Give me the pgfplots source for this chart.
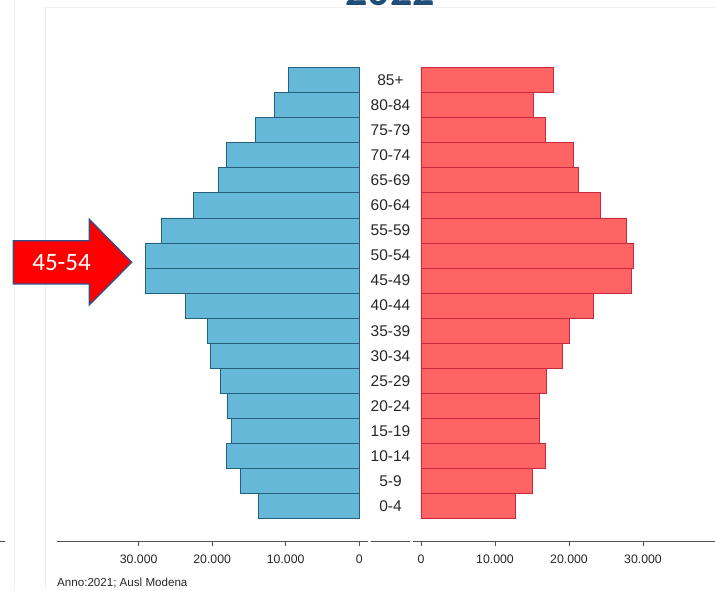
\documentclass[border=0pt]{standalone}
\usepackage{pgfplots}
\pgfplotsset{compat=1.18}
\usepackage{fontspec}
\setmainfont{Liberation Sans}
\newfontfamily\calibri{Carlito}
\definecolor{barblue}{HTML}{66B8D8}
\definecolor{bluedark}{HTML}{25607F}
\definecolor{barred}{HTML}{FF6464}
\definecolor{reddark}{HTML}{C8283C}
\definecolor{axisgray}{HTML}{505050}
\definecolor{titleblue}{HTML}{1F4E79}
\definecolor{arrowblue}{HTML}{2F528F}
\definecolor{arrowred}{HTML}{FF0000}
\pgfplotsset{
  pyr/.style={
    scale only axis, height=474.2pt, ymin=-1.416, ymax=17.5,
    axis y line=none, axis x line*=bottom,
    x axis line style={-, draw=axisgray, line width=0.8pt},
    ytick=\empty,
    scaled x ticks=false,
    xtick={0,10000,20000,30000},
    xticklabels={0,10.000,20.000,30.000},
    tick align=outside, major tick length=4pt,
    xtick style={draw=axisgray, line width=0.6pt},
    xticklabel style={font=\fontsize{12.3}{14}\selectfont, text=black!85, yshift=-6pt},
    anchor=south west,
  }
}
\begin{document}
\begin{tikzpicture}[x=1pt,y=1pt]
\useasboundingbox (0,0) rectangle (715,590);
\draw[gray!12] (14,0) -- (14,590);
\draw[gray!12] (45,0) -- (45,583) -- (715,583);
\draw[black!70, line width=0.8pt] (0,49) -- (5,49);
\node[anchor=base, inner sep=0, font=\calibri\bfseries\fontsize{44}{48}\selectfont, text=titleblue] at (390,584) {2022};

% left (males)
\begin{axis}[pyr, at={(57pt,48.3pt)}, width=310.7pt, x dir=reverse, xmin=-1156, xmax=41116]
\addplot[xbar, bar width=25.07pt, fill=barblue, draw=bluedark, line width=0.8pt] coordinates {
(13700,0) (16100,1) (18100,2) (17400,3) (18000,4) (18900,5) (20200,6) (20700,7) (23600,8)
(29100,9) (29100,10) (26900,11) (22600,12) (19100,13) (18100,14) (14100,15) (11500,16) (9660,17)};
\end{axis}

% middle (age labels)
\begin{axis}[scale only axis, height=474.2pt, width=39pt, at={(371pt,48.3pt)}, anchor=south west,
  ymin=-1.416, ymax=17.5, xmin=0, xmax=1,
  axis x line*=bottom, axis y line*=left,
  x axis line style={-, draw=axisgray, line width=0.8pt},
  y axis line style={draw=none},
  xtick=\empty,
  ytick={0,...,17},
  yticklabels={0-4,5-9,10-14,15-19,20-24,25-29,30-34,35-39,40-44,45-49,50-54,55-59,60-64,65-69,70-74,75-79,80-84,85+},
  ytick style={draw=none},
  yticklabel style={anchor=center, xshift=19.5pt, font=\fontsize{15.5}{18}\selectfont, text=black!85}]
\end{axis}

% right (females)
\begin{axis}[pyr, at={(413pt,48.3pt)}, width=302pt, xmin=-1080, xmax=39730]
\addplot[xbar, bar width=25.07pt, fill=barred, draw=reddark, line width=0.8pt] coordinates {
(12700,0) (15100,1) (16800,2) (16000,3) (16000,4) (16900,5) (19100,6) (20100,7) (23300,8)
(28400,9) (28700,10) (27700,11) (24300,12) (21300,13) (20600,14) (16800,15) (15200,16) (17900,17)};
\end{axis}

\node[anchor=base west, inner sep=0, font=\fontsize{11.6}{13}\selectfont, text=black!85] at (57,4) {Anno:2021; Ausl Modena};

\draw[fill=arrowred, draw=arrowblue, line width=1.3pt, line join=miter]
  (13.3,349.3) -- (89.3,349.3) -- (89.3,370.7) -- (131.7,327.7) -- (89.3,285) -- (89.3,306) -- (13.3,306) -- cycle;
\node[text=white, inner sep=0, font=\calibri\fontsize{25}{28}\selectfont] at (61.5,327.2) {45-54};
\end{tikzpicture}
\end{document}
